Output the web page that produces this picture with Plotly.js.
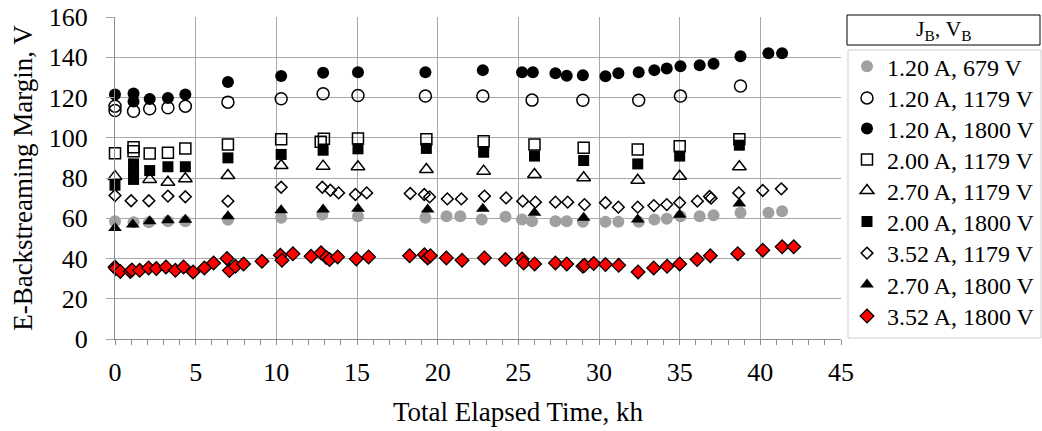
<!DOCTYPE html>
<html>
<head>
<meta charset="utf-8">
<script src="https://cdn.plot.ly/plotly-3.0.1.min.js"></script>
<style>
  html, body { margin: 0; padding: 0; background: #fff; }
  #chart { width: 1042px; height: 431px; }
</style>
</head>
<body>
<div id="chart"></div>
<script>
// ---- Data ----
const seriesNames = [
  "1.20 A, 679 V", "1.20 A, 1179 V", "1.20 A, 1800 V", "2.00 A, 1179 V",
  "2.70 A, 1179 V", "2.00 A, 1800 V", "3.52 A, 1179 V", "2.70 A, 1800 V", "3.52 A, 1800 V"
];

const x_120_679 = [0, 1.15, 2.1, 3.28, 4.36, 7.0, 10.3, 12.85, 15.06, 19.24, 20.55, 21.4, 22.73, 24.2, 25.23, 25.85, 27.3, 28.0, 29.0, 30.4, 31.2, 32.46, 33.43, 34.2, 35.05, 36.24, 37.1, 38.77, 40.5, 41.35];
const y_120_679 = [58.5, 58, 58, 58.5, 58.5, 59.3, 60.2, 61.8, 61, 60.2, 61, 61, 59.4, 60.7, 59.4, 58.5, 58.5, 58.5, 58.2, 58.2, 58.2, 58.2, 59.4, 59.7, 61, 61, 61.5, 62.7, 62.7, 63.5];

const x_120_1179 = [0, 0, 1.15, 2.15, 3.28, 4.36, 7.0, 10.3, 12.9, 15.06, 19.24, 22.8, 25.85, 29.0, 32.46, 35.05, 38.77];
const y_120_1179 = [115.7, 113.5, 113.2, 114.4, 114.9, 115.7, 117.7, 119.4, 121.9, 121, 120.7, 120.7, 118.7, 118.6, 118.6, 120.7, 125.7];

const x_120_1800 = [0, 1.15, 1.15, 2.15, 3.28, 4.36, 7.0, 10.3, 12.9, 15.06, 19.24, 22.8, 25.23, 25.9, 27.3, 28.0, 29.0, 30.4, 31.2, 32.46, 33.43, 34.2, 35.05, 36.24, 37.1, 38.77, 40.5, 41.35];
const y_120_1800 = [121.5, 122, 118, 119.2, 119.8, 121.5, 127.7, 130.7, 132.3, 132.6, 132.6, 133.6, 132.5, 132.5, 132, 130.8, 131.1, 130.6, 132, 132.6, 133.6, 134.4, 135.5, 136, 136.8, 140.5, 142, 142];

const x_200_1179 = [0, 1.15, 1.15, 2.15, 3.28, 4.36, 7.0, 10.3, 12.75, 12.95, 15.06, 19.3, 22.85, 26.0, 29.05, 32.4, 35.0, 38.7];
const y_200_1179 = [92.3, 95.3, 93.3, 92.2, 92.5, 94.7, 96.7, 99.2, 98, 99.5, 99.6, 99.2, 98.3, 96.7, 95, 94.2, 95.8, 99.2];

const x_270_1179 = [0, 2.15, 3.28, 4.36, 7.0, 10.3, 12.9, 15.06, 19.3, 22.85, 26.0, 29.05, 32.4, 35.0, 38.7];
const y_270_1179 = [80.8, 79.3, 77.9, 79.6, 81.2, 86.2, 85.9, 85.6, 84.2, 83.4, 81.7, 80.1, 78.9, 80.9, 85.6];

const x_200_1800 = [0, 1.15, 1.15, 1.15, 2.15, 3.28, 4.36, 7.0, 10.3, 12.9, 15.06, 19.3, 22.85, 26.0, 29.05, 32.4, 35.0, 38.7];
const y_200_1800 = [76.4, 87, 83, 79.3, 83.7, 85.6, 85.6, 90, 91.7, 93.8, 94.5, 94.7, 92.8, 90.9, 88.7, 87, 90.9, 96.3];

const x_352_1179 = [0, 1.0, 2.1, 3.28, 4.36, 7.0, 10.3, 12.85, 13.35, 13.86, 14.9, 15.6, 18.3, 19.17, 19.5, 20.6, 21.47, 22.9, 24.24, 25.27, 26.06, 27.3, 28.06, 29.1, 30.4, 31.2, 32.4, 33.4, 34.2, 35.0, 36.1, 36.85, 36.95, 38.66, 40.15, 41.3];
const y_352_1179 = [71.3, 68.7, 68.7, 71, 70.7, 68.5, 75.4, 75.4, 73.9, 72.6, 71.8, 72.6, 72.3, 71.8, 70.6, 69.6, 69.6, 71, 70.1, 68.5, 68, 68, 68, 66.8, 67.7, 65.5, 65.5, 66.3, 66.8, 67.7, 68.5, 70.8, 70, 72.6, 73.8, 74.6];

const x_270_1800 = [0, 1.1, 2.15, 3.28, 4.36, 7.0, 10.3, 12.9, 15.06, 19.38, 22.8, 26.0, 29.05, 32.4, 35.0, 38.7];
const y_270_1800 = [55.2, 56.9, 58.5, 59, 59.3, 61, 64, 64.3, 64.7, 64.3, 64.7, 62.7, 60.2, 59.4, 61.8, 67.3];

const x_352_1800 = [0, 0.05, 0.33, 0.95, 1.05, 1.53, 2.08, 2.56, 3.16, 3.74, 4.25, 4.84, 5.54, 6.11, 6.94, 7.09, 7.46, 7.97, 9.11, 10.25, 10.35, 11.03, 12.15, 12.77, 13.1, 13.3, 13.8, 14.96, 15.72, 18.26, 19.18, 19.38, 19.55, 20.54, 21.51, 22.9, 24.2, 25.23, 25.33, 26.01, 27.3, 28.0, 29.0, 29.1, 29.67, 30.4, 31.22, 32.42, 33.39, 34.22, 35.0, 36.08, 36.9, 38.6, 40.15, 41.35, 42.07];
const y_352_1800 = [35.8, 35.0, 33.6, 33.6, 34.3, 34.1, 35.3, 35.0, 35.8, 34.1, 35.8, 33.3, 35.3, 37.8, 40.0, 34.0, 36.1, 37.3, 38.6, 41.6, 39.1, 42.3, 41.1, 42.8, 40.5, 39.5, 40.8, 39.8, 40.8, 41.4, 41.9, 40.3, 41.4, 40.3, 39.1, 40.3, 39.5, 39.8, 37.8, 37.3, 37.8, 37.3, 36.1, 36.6, 37.5, 37.0, 36.6, 33.3, 35.3, 36.1, 37.3, 39.5, 41.4, 42.4, 44.1, 45.8, 45.8];

const xTickVals = [0, 5, 10, 15, 20, 25, 30, 35, 40, 45];
const yTickVals = [0, 20, 40, 60, 80, 100, 120, 140, 160];

// ---- Styles ----
const FONT = '"Liberation Serif", "Times New Roman", Times, serif';
const blackLine = { color: '#000', width: 1.5 };
const W = 1042, H = 431;

// one legend per entry so that the rows sit at the reference spacing
const legendIds = seriesNames.map((n, i) => i === 0 ? 'legend' : 'legend' + (i + 1));
const legendRowY = [66.7, 98.3, 128.8, 159.8, 191, 222, 253.5, 285, 316.5];

function tr(i, xs, ys, marker) {
  return { type: 'scatter', mode: 'markers', name: seriesNames[i], x: xs, y: ys, marker: marker,
           cliponaxis: false, legend: legendIds[i] };
}

const data = [
  tr(0, x_120_679,  y_120_679,  { symbol: 'circle', size: 12, color: '#a0a0a0' }),
  tr(1, x_120_1179, y_120_1179, { symbol: 'circle-open', size: 12, color: '#000', line: blackLine }),
  tr(2, x_120_1800, y_120_1800, { symbol: 'circle', size: 12, color: '#000' }),
  tr(3, x_200_1179, y_200_1179, { symbol: 'square-open', size: 11, color: '#000', line: blackLine }),
  tr(4, x_270_1179, y_270_1179, { symbol: 'triangle-up-open', size: 12, color: '#000', line: blackLine }),
  tr(5, x_200_1800, y_200_1800, { symbol: 'square', size: 11, color: '#000' }),
  tr(6, x_352_1179, y_352_1179, { symbol: 'diamond-open', size: 9, color: '#000', line: blackLine }),
  tr(7, x_270_1800, y_270_1800, { symbol: 'triangle-up', size: 12, color: '#000' }),
  tr(8, x_352_1800, y_352_1800, { symbol: 'diamond', size: 10.5, color: '#ff0000', line: { color: '#000', width: 1.3 } })
];

// pixel -> paper helpers for decorations
const L = 115, R = 201, T = 17, B = 92;
const pw = W - L - R, ph = H - T - B;
const px = v => (v - L) / pw;
const py = v => (H - B - v) / ph;

const layout = {
  width: W, height: H,
  margin: { l: L, r: R, t: T, b: B, pad: 0, autoexpand: false },
  paper_bgcolor: '#fff', plot_bgcolor: '#fff',
  font: { family: FONT, size: 26, color: '#000' },
  showlegend: true,
  xaxis: {
    range: [0, 45], tickvals: xTickVals, ticks: 'outside', ticklen: 5, tickcolor: '#8c8c8c',
    showgrid: true, gridcolor: '#a8a8a8', gridwidth: 1,
    showline: true, linecolor: '#8c8c8c', linewidth: 1, zeroline: false,
    tickfont: { family: FONT, size: 26, color: '#000' },
    ticklabelstandoff: 5,
    minor: { dtick: 1, ticks: 'outside', ticklen: 5, tickcolor: '#8c8c8c', showgrid: false },
    fixedrange: true, automargin: false
  },
  yaxis: {
    range: [0, 160], tickvals: yTickVals, ticks: 'outside', ticklen: 8, tickcolor: '#a8a8a8',
    showgrid: true, gridcolor: '#a8a8a8', gridwidth: 1,
    showline: true, linecolor: '#8c8c8c', linewidth: 1, zeroline: false,
    tickfont: { family: FONT, size: 26, color: '#000' },
    ticklabelstandoff: 13,
    title: { text: 'E-Backstreaming Margin, V', font: { family: FONT, size: 27, color: '#000' }, standoff: 8 },
    fixedrange: true, automargin: false
  },
  annotations: [
    { text: 'Total Elapsed Time, kh', xref: 'paper', yref: 'paper', x: px(518), y: py(411.7),
      xanchor: 'center', yanchor: 'middle', showarrow: false, font: { family: FONT, size: 27, color: '#000' } },
    { text: 'J<sub>B</sub>, V<sub>B</sub>', xref: 'paper', yref: 'paper', x: px(944), y: py(30),
      xanchor: 'center', yanchor: 'middle', showarrow: false, font: { family: FONT, size: 22, color: '#000' } }
  ],
  shapes: [
    { type: 'rect', xref: 'paper', yref: 'paper', x0: px(847), x1: px(1040), y0: py(15), y1: py(45),
      line: { color: '#000', width: 1 }, fillcolor: 'rgba(0,0,0,0)' },
    { type: 'rect', xref: 'paper', yref: 'paper', x0: px(848), x1: px(1041), y0: py(50), y1: py(338),
      line: { color: '#cfcfcf', width: 1 }, fillcolor: 'rgba(0,0,0,0)' }
  ]
};

legendIds.forEach((id, i) => {
  layout[id] = {
    xref: 'container', yref: 'container',
    x: 847 / W, y: 1 - legendRowY[i] / H, xanchor: 'left', yanchor: 'middle',
    bgcolor: 'rgba(0,0,0,0)', borderwidth: 0,
    font: { family: FONT, size: 24, color: '#000' }
  };
});

Plotly.newPlot('chart', data, layout, { displayModeBar: false, staticPlot: true });
</script>
</body>
</html>
